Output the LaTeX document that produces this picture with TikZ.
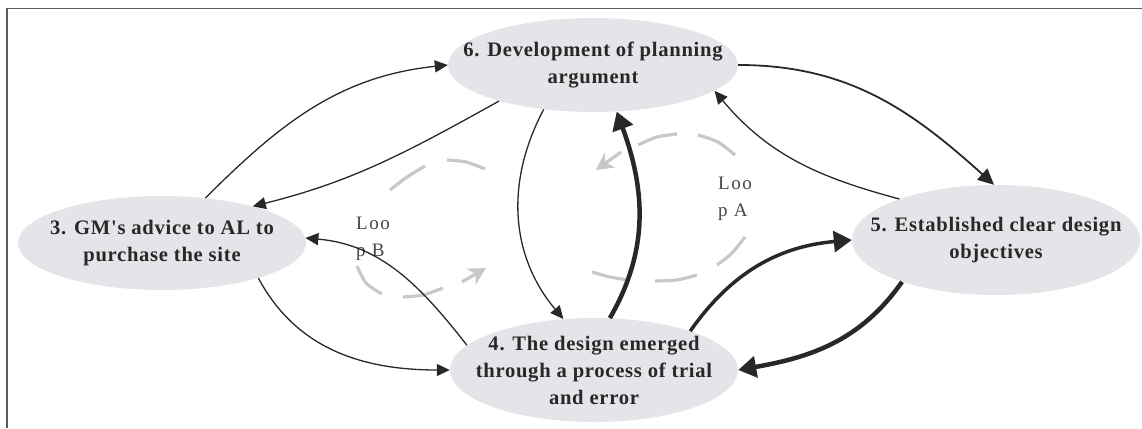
\documentclass[tikz,border=0pt]{standalone}
\usepackage{fontspec}
\setmainfont{Liberation Serif}
\newfontfamily\stagefont[LetterSpace=3.5]{Liberation Serif}
\newfontfamily\loopfont[LetterSpace=8]{Liberation Serif}
\usetikzlibrary{shapes.geometric,arrows.meta}
\definecolor{bubble}{RGB}{229,229,233}
\definecolor{ink}{RGB}{40,40,40}
\definecolor{framegray}{RGB}{90,90,90}
\definecolor{loopgray}{RGB}{200,200,200}
\definecolor{looptext}{RGB}{70,70,70}
\begin{document}
\begin{tikzpicture}[x=1pt,y=1pt,
  stage/.style={ellipse, fill=bubble, inner xsep=-45pt, inner ysep=0pt,
    minimum width=288pt, align=center, text=ink,
    font={\stagefont\bfseries\fontsize{20.6pt}{27pt}\selectfont}},
  conn/.style={draw=ink, line width=1.3pt, -{Triangle[length=13pt,width=12pt]}},
  heavy/.style={draw=ink, line width=4.5pt, -{Triangle[length=18pt,width=21pt]}},
  loopdash/.style={draw=loopgray, line width=3.2pt},
  looptip/.style={-{Stealth[length=17pt,width=18pt,inset=5pt]}},
  looplabel/.style={align=left, text=looptext, inner sep=0pt,
    font={\loopfont\fontsize{19pt}{27pt}\selectfont}}
]
\useasboundingbox (0,0) rectangle (1142,-428);

% frame (left and top edges)
\draw[framegray, line width=1.3pt] (7,-428) -- (7,-8.5) -- (1142,-8.5);

% stages
\node[stage, minimum height=94pt, minimum width=290pt] (n6) at (593,-65)
  {6. Development of planning\\argument};
\node[stage, minimum height=94pt] (n3) at (162,-243)
  {3. GM's advice to AL to\\purchase the site};
\node[stage, minimum height=110pt] (n5) at (996,-240)
  {5. Established clear design\\objectives};
\node[stage, minimum height=104pt] (n4) at (594,-370)
  {4. The design emerged\\through a process of trial\\and error};

% loop B (dashed, grey)
\draw[loopdash] plot[smooth] coordinates {(485,-169) (466,-162) (447,-160)};
\draw[loopdash] plot[smooth] coordinates {(425,-166) (407,-177) (390,-190)};
\draw[loopdash] plot[smooth] coordinates {(357,-266) (366,-283) (382,-294)};
\draw[loopdash] plot[smooth] coordinates {(403,-297) (423,-295) (443,-288)};
\draw[loopdash, looptip] (462,-282) -- (486,-268);

% loop A (dashed, grey)
\draw[loopdash] plot[smooth] coordinates {(592,-272) (610,-277) (628,-280)};
\draw[loopdash] plot[smooth] coordinates {(655,-281) (677,-280) (697,-275)};
\draw[loopdash] plot[smooth] coordinates {(717,-265) (732,-253) (745,-237)};
\draw[loopdash] plot[smooth] coordinates {(735,-155) (718,-142) (698,-135)};
\draw[loopdash] plot[smooth] coordinates {(677,-134) (657,-137) (638,-145)};
\draw[loopdash, looptip] (621,-152) -- (596,-170);

\node[looplabel] (la) at (735,-199) {Loo\\p A};
\node[looplabel] (lb) at (373,-239) {Loo\\p B};

% connectors
\draw[conn] (n3.46) to[out=45,in=186] (n6.180);
\draw[conn] (n6.201) to[out=209,in=14] (n3.22);
\draw[conn, line width=1.8pt, -{Triangle[length=16pt,width=15pt]}] (n6.0) to[out=0,in=138] (n5.92);
\draw[conn] (n5.157) to[out=165,in=-50] (n6.-12);
\draw[conn] (n6.222) to[out=242,in=130] (n4.121);
\draw[heavy] (n4.73) to[out=60,in=-70] (n6.-63);
\draw[conn] (n3.-20) to[out=-62,in=180] (n4.180);
\draw[conn] (n4.169) to[out=128,in=-5] (n3.2);
\draw[heavy, line width=3.5pt] (n4.22) to[out=55,in=185] (n5.180);
\draw[heavy] (n5.204) to[out=235,in=10] (n4.0);
\end{tikzpicture}
\end{document}
